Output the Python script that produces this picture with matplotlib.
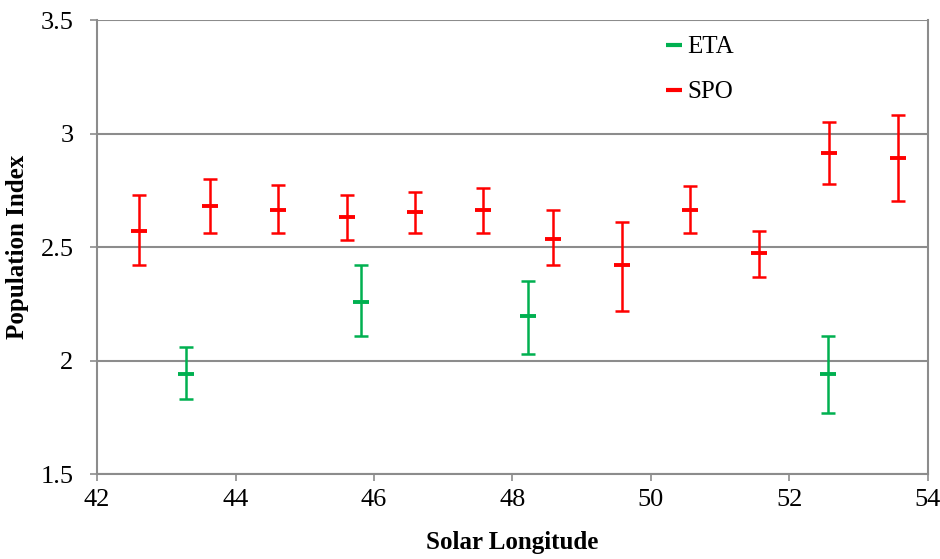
import matplotlib
matplotlib.use("Agg")
import matplotlib.pyplot as plt
from matplotlib.lines import Line2D

# ETA data
eta_x = [43.28, 45.81, 48.23, 52.55]
eta_y = [1.94, 2.26, 2.195, 1.94]
eta_lo = [1.83, 2.11, 2.03, 1.77]
eta_hi = [2.06, 2.42, 2.35, 2.11]

# SPO data
spo_x = [42.61, 43.63, 44.62, 45.61, 46.59, 47.58, 48.58, 49.585, 50.57, 51.56, 52.57, 53.57]
spo_y = [2.573, 2.683, 2.665, 2.633, 2.655, 2.665, 2.534, 2.423, 2.665, 2.473, 2.915, 2.893]
spo_lo = [2.42, 2.563, 2.563, 2.53, 2.563, 2.563, 2.42, 2.22, 2.563, 2.37, 2.78, 2.702]
spo_hi = [2.731, 2.80, 2.774, 2.73, 2.741, 2.76, 2.662, 2.612, 2.771, 2.57, 3.05, 3.082]

x_ticks = [42, 44, 46, 48, 50, 52, 54]
x_tick_labels = ["42", "44", "46", "48", "50", "52", "54"]
y_ticks = [1.5, 2, 2.5, 3, 3.5]
y_tick_labels = ["1.5", "2", "2.5", "3", "3.5"]

GREEN = "#00B050"
RED = "#FF0000"
GRID = "#8C8C8C"
SERIF = ['Liberation Serif', 'DejaVu Serif']

plt.rcParams['font.family'] = SERIF
plt.rcParams['font.serif'] = SERIF

fig = plt.figure(figsize=(9.4, 5.59), dpi=100)
ax = fig.add_axes([0.1032, 0.152, 0.884, 0.812])

def draw(xs, ys, lo, hi, color):
    yerr = [[y - l for y, l in zip(ys, lo)], [h - y for y, h in zip(ys, hi)]]
    ax.errorbar(xs, ys, yerr=yerr, fmt='none', ecolor=color, elinewidth=1.8,
                capsize=5, capthick=1.8, zorder=3)
    ax.plot(xs, ys, linestyle='none', marker='_', markersize=12,
            markeredgewidth=2.8, color=color, zorder=4)

draw(eta_x, eta_y, eta_lo, eta_hi, GREEN)
draw(spo_x, spo_y, spo_lo, spo_hi, RED)

ax.set_xlim(42, 54)
ax.set_ylim(1.5, 3.5)
ax.set_xticks(x_ticks)
ax.set_xticklabels(x_tick_labels, fontfamily=SERIF, fontsize=19)
ax.set_yticks(y_ticks)
ax.set_yticklabels(y_tick_labels, fontfamily=SERIF, fontsize=19)
ax.tick_params(axis='both', colors='black', direction='out',
               length=5, width=1.2, color=GRID)
ax.tick_params(axis='x', pad=6)
ax.tick_params(axis='y', pad=12)
ax.yaxis.grid(True, color=GRID, linewidth=1.5)
ax.set_axisbelow(True)
for side in ['left', 'bottom', 'right']:
    ax.spines[side].set_color(GRID)
    ax.spines[side].set_linewidth(1.5)
ax.spines['top'].set_visible(False)

ax.set_xlabel("Solar Longitude", fontsize=18, fontweight='bold', labelpad=14,
              fontfamily=SERIF)
ax.set_ylabel("Population Index", fontsize=18, fontweight='bold', labelpad=8,
              fontfamily=SERIF)

handles = [Line2D([], [], linestyle='none', marker='_', markersize=12, markeredgewidth=3, color=GREEN),
           Line2D([], [], linestyle='none', marker='_', markersize=12, markeredgewidth=3, color=RED)]
ax.legend(handles, ["ETA", "SPO"], loc='upper left', bbox_to_anchor=(0.655, 1.015),
          frameon=False, prop={'family': SERIF, 'size': 18}, handlelength=0.8,
          handletextpad=0.15, labelspacing=0.9)

fig.savefig("out.png", dpi=100)
